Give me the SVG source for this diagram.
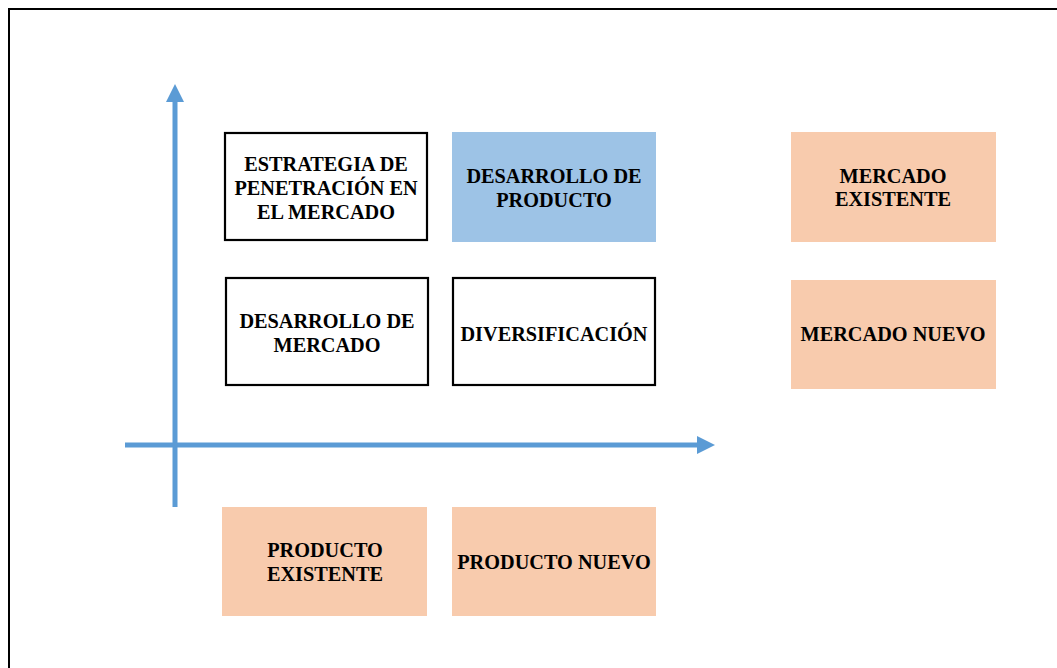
<svg xmlns="http://www.w3.org/2000/svg" width="1057" height="668" viewBox="0 0 1057 668">
<defs>
<style>
.t{font-family:"Liberation Serif","Times New Roman",serif;font-weight:bold;font-size:20.3px;fill:#000;text-anchor:middle}
.w{fill:#fff;stroke:#000;stroke-width:2.2}
.b{fill:#9DC3E6}
.o{fill:#F8CBAD}
.ax{stroke:#5B9BD5;stroke-width:5;fill:none}
</style>
<marker id="ah" markerUnits="userSpaceOnUse" markerWidth="20" markerHeight="20" refX="0" refY="9" orient="auto">
<path d="M0,0 L18,9 L0,18 Z" fill="#5B9BD5"/>
</marker>
</defs>
<rect x="0" y="0" width="1057" height="668" fill="#fff"/>
<rect x="9" y="9" width="1060" height="680" fill="none" stroke="#000" stroke-width="2"/>
<g id="connectors">
<line class="ax" x1="175" y1="507" x2="175" y2="102" marker-end="url(#ah)"/>
<line class="ax" x1="125" y1="445" x2="697" y2="445" marker-end="url(#ah)"/>
</g>
<g id="n-penetracion">
<rect class="w" x="225" y="133" width="202" height="107"/>
<text class="t" x="326" y="171">ESTRATEGIA DE</text>
<text class="t" x="326" y="195">PENETRACIÓN EN</text>
<text class="t" x="326" y="219">EL MERCADO</text>
</g>
<g id="n-desarrollo-producto">
<rect class="b" x="452" y="132" width="204" height="110"/>
<text class="t" x="554" y="183">DESARROLLO DE</text>
<text class="t" x="554" y="207">PRODUCTO</text>
</g>
<g id="n-desarrollo-mercado">
<rect class="w" x="226" y="278" width="202" height="107"/>
<text class="t" x="327" y="328">DESARROLLO DE</text>
<text class="t" x="327" y="352">MERCADO</text>
</g>
<g id="n-diversificacion">
<rect class="w" x="453" y="278" width="202" height="107"/>
<text class="t" x="554" y="341">DIVERSIFICACIÓN</text>
</g>
<g id="n-mercado-existente">
<rect class="o" x="791" y="132" width="205" height="110"/>
<text class="t" x="893" y="183">MERCADO</text>
<text class="t" x="893" y="206">EXISTENTE</text>
</g>
<g id="n-mercado-nuevo">
<rect class="o" x="791" y="280" width="205" height="109"/>
<text class="t" x="893" y="341">MERCADO NUEVO</text>
</g>
<g id="n-producto-existente">
<rect class="o" x="222" y="507" width="205" height="109"/>
<text class="t" x="325" y="557">PRODUCTO</text>
<text class="t" x="325" y="581">EXISTENTE</text>
</g>
<g id="n-producto-nuevo">
<rect class="o" x="452" y="507" width="204" height="109"/>
<text class="t" x="554" y="569">PRODUCTO NUEVO</text>
</g>
</svg>
